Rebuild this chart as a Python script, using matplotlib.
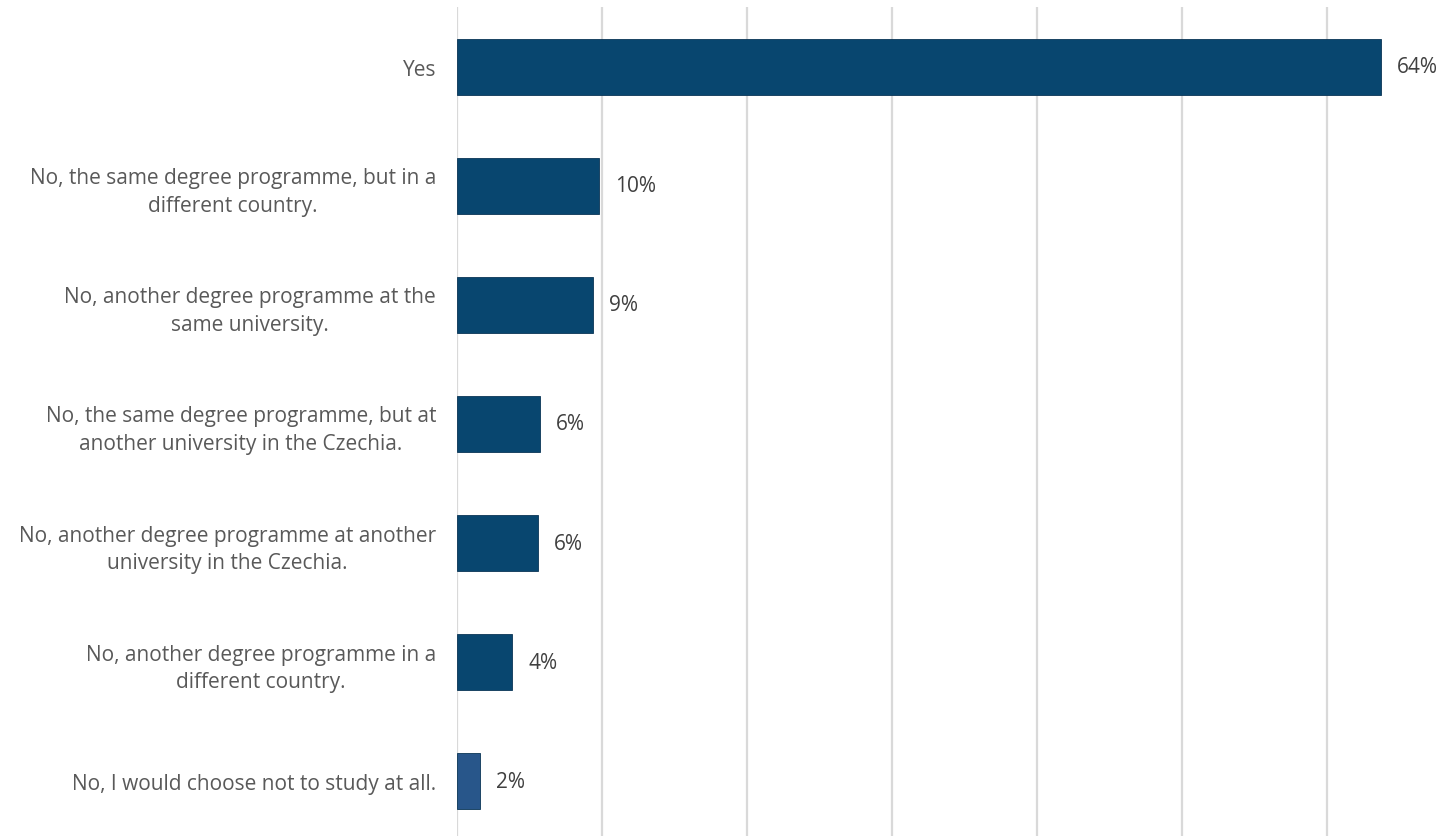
import matplotlib
matplotlib.use("Agg")
import matplotlib.pyplot as plt

categories = [
    "Yes",
    "No, the same degree programme, but in a\ndifferent country.",
    "No, another degree programme at the\nsame university.",
    "No, the same degree programme, but at\nanother university in the Czechia.",
    "No, another degree programme at another\nuniversity in the Czechia.",
    "No, another degree programme in a\ndifferent country.",
    "No, I would choose not to study at all.",
]
values = [63.7, 9.8, 9.4, 5.7, 5.6, 3.8, 1.6]
value_labels = ["64%", "10%", "9%", "6%", "6%", "4%", "2%"]
bar_colors = ["#08466f"] * 6 + ["#28568a"]

W, H = 1449, 837
fig = plt.figure(figsize=(W / 100, H / 100), dpi=100)
left_px, right_px, top_px, bottom_px = 457, 1443, 8, 837
ax = fig.add_axes([left_px / W, 1 - bottom_px / H, (right_px - left_px) / W, (bottom_px - top_px) / H])
xmax = (right_px - left_px) / 14.5
ax.set_xlim(0, xmax)
ax.set_ylim(6.462, -0.504)

font = "Open Sans"
ypos = list(range(len(categories)))
ax.barh(ypos, values, height=0.47, color=bar_colors, edgecolor="#0a3556", linewidth=0.6, zorder=3)
for y, v, lab in zip(ypos, values, value_labels):
    ax.text(v + 1.1, y, lab, va="center", ha="left", fontsize=15, color="#404040", family=font)

ax.set_xticks(range(0, 61, 10))
ax.grid(axis="x", color="#d9d9d9", linewidth=1.6, zorder=0)
ax.tick_params(axis="x", length=0, labelbottom=False)
ax.set_yticks(ypos)
ax.set_yticklabels(categories, fontsize=15, color="#595959", family=font,
                   multialignment="center", linespacing=1.38)
ax.tick_params(axis="y", length=0, pad=15)
for s in ax.spines.values():
    s.set_visible(False)

fig.savefig("out.png", dpi=100, facecolor="white")
